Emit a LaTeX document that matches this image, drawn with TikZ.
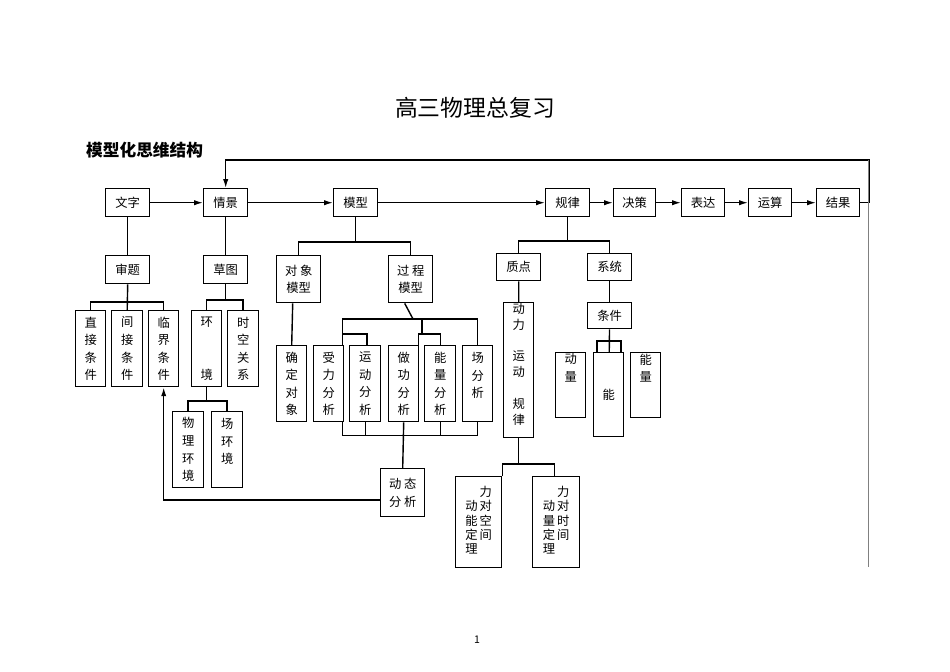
\documentclass[tikz,border=0pt]{standalone}
\usepackage{fontspec}
\setmainfont{Noto Sans CJK SC}
\usetikzlibrary{positioning,arrows.meta}
\begin{document}
\begin{tikzpicture}[x=0.02cm,y=-0.02cm]
  % 定义样式
  \tikzset{box/.style = {draw, thick, anchor=north west, inner sep=0pt, font=\fontsize{7}{10}\selectfont, align=center}}
  \tikzset{hbox/.style = {box, minimum width=0.88cm, minimum height=0.56cm}}
  \tikzset{vbox/.style = {box, minimum width=0.6cm, minimum height=1.52cm}}
  \tikzset{edge/.style = {draw, thick}}
  \tikzset{arr/.style = {draw, thick, -{Latex[length=5pt,width=3pt]}}}
  \useasboundingbox (0,0) rectangle (950,672);

  % 标题
  \node (title) at (475,108) {\fontsize{13}{15}\selectfont 高三物理总复习};
  \node[anchor=west] (sub) at (80,150) {\fontsize{9.5}{11}\selectfont\bfseries 模型化思维结构};
  \node (page) at (477,640) {\fontsize{6}{7}\selectfont 1};

  % 主线
  \node[hbox] (wenzi) at (105,188) {文字};
  \node[hbox] (qingjing) at (203,188) {情景};
  \node[hbox] (moxing) at (333,188) {模型};
  \node[hbox] (guilv) at (545,188) {规律};
  \node[hbox, minimum width=0.84cm] (juece) at (613,188) {决策};
  \node[hbox, minimum width=0.86cm] (biaoda) at (681,188) {表达};
  \node[hbox, minimum width=0.86cm] (yunsuan) at (748,188) {运算};
  \node[hbox, minimum width=0.86cm] (jieguo) at (816,188) {结果};
  \draw[arr] (wenzi) -- (qingjing);
  \draw[arr] (qingjing) -- (moxing);
  \draw[arr] (moxing) -- (guilv);
  \draw[arr] (guilv) -- (juece);
  \draw[arr] (juece) -- (biaoda);
  \draw[arr] (biaoda) -- (yunsuan);
  \draw[arr] (yunsuan) -- (jieguo);
  \coordinate (loopR) at (868,160);
  \draw[arr] (jieguo.east) -- ++(9,0) |- (loopR) -| (qingjing.north);
  \draw[gray] (loopR) -- (868,567);

  % 审题
  \node[hbox] (shenti) at (105,255) {审题};
  \node[vbox] (zhijie) at (75,310) {直\\接\\条\\件};
  \node[vbox, minimum width=0.62cm] (jianjie) at (111,310) {间\\接\\条\\件};
  \node[vbox] (linjie) at (148,310) {临\\界\\条\\件};
  \draw[edge] (wenzi) -- (shenti);
  \draw[edge] (shenti.south) -- (jianjie.north);
  \draw[edge] (zhijie.north) -- ++(0,-8) -| (linjie.north);

  % 草图
  \node[hbox] (caotu) at (203,255) {草图};
  \node[vbox] (huanjing) at (191,310) {环\\ \\ \\境};
  \node[vbox, minimum width=0.62cm] (shikong) at (227,310) {时\\空\\关\\系};
  \node[vbox, minimum width=0.62cm] (wuli) at (172,411) {物\\理\\环\\境};
  \node[vbox, minimum width=0.62cm] (changhj) at (211,411) {场\\环\\境\\ };
  \draw[edge] (qingjing) -- (caotu);
  \draw[edge] (huanjing.north) -- ++(0,-10) -| (shikong.north);
  \draw[edge] (caotu.south) -- ++(0,17);
  \draw[edge] (wuli.north) -- ++(0,-10) -| (changhj.north);
  \draw[edge] (huanjing.south) -- ++(0,15);

  % 模型
  \node[hbox, minimum height=0.94cm] (duixiang) at (276,255) {对 象\\模型};
  \node[hbox, minimum height=0.94cm] (guocheng) at (388,255) {过 程\\模型};
  \node[vbox] (queding) at (276,345) {确\\定\\对\\象};
  \draw[edge] (moxing.south) -- ++(0,26);
  \draw[edge] (duixiang.north) -- ++(0,-13) -| (guocheng.north);
  \draw[edge] (duixiang.south) ++(-6,0) -- (queding.north);
  \node[vbox] (shouli) at (313,345) {受\\力\\分\\析};
  \node[vbox, minimum width=0.62cm] (yundong) at (349,345) {运\\动\\分\\析};
  \node[vbox] (zuogong) at (388,345) {做\\功\\分\\析};
  \node[vbox, minimum width=0.62cm] (nengliang) at (424,345) {能\\量\\分\\析};
  \node[vbox] (chang) at (462,345) {场\\分\\析\\ };
  \coordinate (gcJ) at (413,319);
  \draw[edge] (guocheng.south) ++(-6,0) -- (gcJ);
  \draw[edge] (shouli.north) ++(14,0) coordinate (s1) -- ++(0,-11) -| ([xshift=1]yundong.north);
  \draw[edge] (zuogong.north) ++(15,0) -- ++(0,-11) -| (nengliang.north);
  \draw[edge] (s1) ++(0,-11) -- ++(0,-15) -| (chang.north);
  \draw[edge] (422,334) -- (422,319);
  \draw[edge] (shouli.south) ++(14,0) -- ++(0,13) -| (chang.south);
  \draw[edge] (yundong.south) -- ++(0,13);
  \draw[edge] (nengliang.south) -- ++(0,13);
  \node[hbox, minimum height=0.96cm] (dongtai) at (380,468) {动 态\\分 析};
  \draw[edge] (zuogong.south) -- (dongtai.north);
  \draw[arr] (dongtai.west |- 0,500) -| (linjie.south);

  % 规律
  \node[hbox, minimum height=0.54cm] (zhidian) at (496,253) {质点};
  \node[hbox, minimum height=0.54cm] (xitong) at (587,253) {系统};
  \draw[edge] (guilv.south) -- ++(0,25);
  \draw[edge] (zhidian.north) -- ++(0,-12) -| (xitong.north);
  \node[vbox, minimum height=2.7cm, anchor=north west] (dlyd) at (503,302) {};
  \node[font=\fontsize{7}{9}\selectfont, align=center, anchor=north] (dlydT) at (dlyd.north) {\\[-6pt]动\\力\\ \\运\\动\\ \\规\\律};
  \draw[edge] (zhidian) -- (dlyd);
  \node[box, minimum width=0.92cm, minimum height=1.82cm] (dongneng) at (455,476) {};
  \node[box, minimum width=0.94cm, minimum height=1.82cm] (dongliang) at (532,476) {};
  \node[font=\fontsize{7}{8}\selectfont, anchor=north] (dnT) at ([yshift=-2pt]dongneng.north)
    {\begin{tabular}{@{}c@{\,}c@{}} &力\\动&对\\能&空\\定&间\\理&\end{tabular}};
  \node[font=\fontsize{7}{8}\selectfont, anchor=north] (dlT) at ([yshift=-2pt]dongliang.north)
    {\begin{tabular}{@{}c@{\,}c@{}} &力\\动&对\\量&时\\定&间\\理&\end{tabular}};
  \draw[edge] (dlyd.south) -- ++(0,27);
  \draw[edge] ([xshift=1]dongneng.north) ++(22,0) -- ++(0,-12) -| ([xshift=-1]dongliang.north);

  % 系统
  \node[hbox, minimum height=0.52cm] (tiaojian) at (587,302) {条件};
  \node[vbox, minimum height=1.3cm] (dongl) at (555,352) {动\\量\\ \\ };
  \node[vbox, minimum height=1.68cm] (neng) at (593,352) {能};
  \node[vbox, minimum height=1.3cm] (nengl) at (630,352) {能\\量\\ \\ };
  \draw[edge] (xitong) -- (tiaojian);
  \draw[edge] (tiaojian) -- (neng);
  \draw[edge] ([xshift=15]dongl.north) -- ++(0,-11) -| ([xshift=-14]nengl.north);
\end{tikzpicture}
\end{document}
